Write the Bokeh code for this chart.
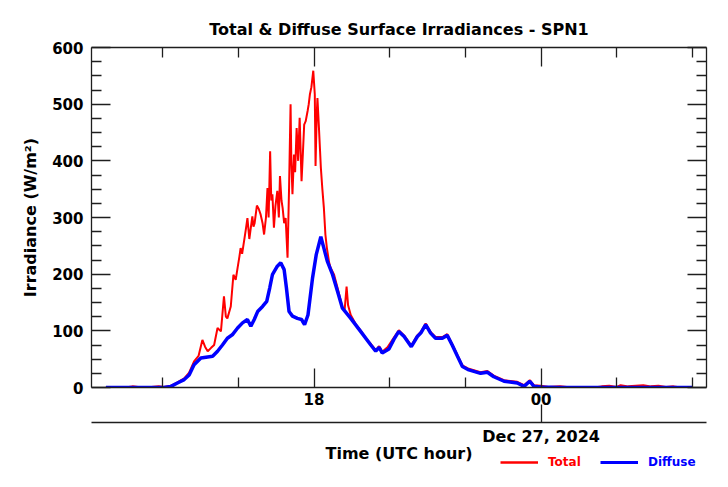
from bokeh.plotting import figure
from bokeh.layouts import column
from bokeh.models import LinearAxis, FixedTicker, Range1d, Legend, LegendItem
from bokeh.embed import file_html
from bokeh.resources import INLINE

# ---------------- data (hours UTC since Dec 26 00:00; 24 = Dec 27 00:00) ----------------
total_hours = [12.50, 12.75, 13.00, 13.20, 13.45, 13.70, 13.90, 14.03, 14.22, 14.39,
               14.57, 14.70, 14.83, 14.95, 15.05, 15.12, 15.19, 15.28, 15.36, 15.45,
               15.54, 15.62, 15.67, 15.71, 15.80, 15.87, 15.93, 15.98, 16.03, 16.06,
               16.10, 16.15, 16.20, 16.24, 16.29, 16.33, 16.37, 16.40, 16.43, 16.49,
               16.54, 16.59, 16.64, 16.68, 16.73, 16.77, 16.80, 16.84, 16.87, 16.90,
               16.94, 16.98, 17.03, 17.07, 17.10, 17.14, 17.17, 17.21, 17.25, 17.30,
               17.34, 17.38, 17.40, 17.43, 17.47, 17.50, 17.54, 17.58, 17.62, 17.67,
               17.71, 17.74, 17.78, 17.83, 17.86, 17.89, 17.93, 17.98, 18.02, 18.04,
               18.07, 18.09, 18.13, 18.18, 18.22, 18.26, 18.30, 18.34, 18.40, 18.44,
               18.53, 18.62, 18.70, 18.75, 18.81, 18.86, 18.90, 18.97, 19.10, 19.23,
               19.36, 19.50, 19.63, 19.72, 19.80, 19.94, 20.11, 20.24, 20.38, 20.57,
               20.73, 20.82, 20.95, 21.08, 21.21, 21.39, 21.52, 21.65, 21.79, 21.92,
               22.09, 22.40, 22.58, 22.75, 23.02, 23.37, 23.55, 23.70, 23.81, 23.99,
               24.20, 24.50, 24.80, 25.10, 25.40, 25.60, 25.80, 26.00, 26.10, 26.30,
               26.50, 26.70, 26.90, 27.10, 27.30, 27.50, 27.70, 28.00]
total_wm2 = [0, 1, 0, 2, 0, 1, 2, 1, 3, 9,
             16, 26, 46, 56, 84, 72, 64, 70, 75, 105,
             99, 161, 125, 122, 143, 199, 190, 211, 232, 246,
             236, 258, 280, 299, 262, 282, 302, 284, 290, 321,
             315, 305, 290, 270, 300, 352, 300, 417, 330, 341,
             282, 320, 347, 300, 373, 330, 317, 290, 299, 229,
             352, 500, 400, 341, 411, 380, 458, 400, 476, 364,
             420, 464, 470, 488, 500, 517, 530, 559, 517, 391,
             480, 511, 458, 388, 350, 317, 270, 246, 220, 211,
             199, 176, 155, 140, 138, 178, 145, 128, 112, 101,
             88, 77, 66, 73, 63, 71, 88, 101, 92, 74,
             92, 98, 113, 98, 89, 89, 94, 77, 57, 39,
             33, 27, 29, 21, 13, 10, 4, 13, 4, 3,
             1, 2, 0, 1, 0, 2, 3, 1, 4, 2,
             3, 4, 2, 3, 1, 2, 0, 0]

diffuse_hours = [12.50, 13.50, 14.03, 14.22, 14.39, 14.57, 14.70, 14.83, 15.01, 15.19,
                 15.32, 15.45, 15.58, 15.71, 15.84, 15.98, 16.11, 16.24, 16.33, 16.42,
                 16.51, 16.64, 16.75, 16.83, 16.90, 17.03, 17.12, 17.21, 17.27, 17.34,
                 17.43, 17.56, 17.67, 17.75, 17.84, 17.96, 18.06, 18.18, 18.26, 18.35,
                 18.49, 18.62, 18.75, 18.97, 19.23, 19.50, 19.63, 19.72, 19.80, 19.98,
                 20.11, 20.24, 20.38, 20.57, 20.73, 20.82, 20.95, 21.08, 21.21, 21.39,
                 21.52, 21.65, 21.79, 21.92, 22.09, 22.40, 22.58, 22.75, 23.02, 23.37,
                 23.55, 23.70, 23.81, 23.99, 24.50, 25.50, 26.50, 28.00]
diffuse_wm2 = [0, 0, 0, 2, 8, 14, 22, 40, 52, 54,
               55, 64, 75, 87, 93, 105, 114, 120, 108, 120,
               134, 143, 152, 176, 199, 214, 220, 208, 176, 134,
               126, 122, 120, 111, 128, 193, 235, 266, 246, 223,
               199, 170, 140, 122, 99, 75, 64, 71, 61, 68,
               85, 99, 90, 72, 90, 96, 111, 96, 87, 87,
               92, 75, 55, 37, 31, 25, 27, 19, 11, 8,
               2, 11, 2, 1, 0, 0, 0, 0]

x_major_ticks = [18, 24]
x_major_labels = ["18", "00"]
x_minor_ticks = [14, 16, 20, 22, 26, 28]
date_tick = [24]
date_label = ["Dec 27, 2024"]
y_major_ticks = [0, 100, 200, 300, 400, 500, 600]
y_minor_ticks = [25, 50, 75, 125, 150, 175, 225, 250, 275, 325, 350, 375,
                 425, 450, 475, 525, 550, 575]
series_names = ["Total", "Diffuse"]
series_colors = ["#ff0000", "#0000ff"]

FONT = "DejaVu Sans"
AX = "#1e1e1e"
MAIN_H = 466
LEG_TOP = 455

p = figure(width=728, height=MAIN_H, output_backend="svg", toolbar_location=None,
           x_range=Range1d(12.12, 28.37), y_range=Range1d(0, 600),
           x_axis_location=None, y_axis_location=None,
           min_border_left=91, min_border_right=22, min_border_top=47,
           min_border_bottom=MAIN_H - 47 - 340)
p.outline_line_color = None
p.xgrid.grid_line_color = None
p.ygrid.grid_line_color = None

p.title.text = "Total & Diffuse Surface Irradiances - SPN1"
p.title.align = "center"
p.title.text_font = FONT
p.title.text_font_size = "16px"
p.title.text_font_style = "bold"
p.title.text_color = "black"
p.title.standoff = 17


def style(ax, tick_in=19, minor_in=10):
    ax.axis_line_color = AX
    ax.axis_line_width = 1.3
    ax.major_tick_line_color = AX
    ax.minor_tick_line_color = AX
    ax.major_tick_line_width = 1.3
    ax.minor_tick_line_width = 1.3
    ax.major_tick_out = 0
    ax.minor_tick_out = 0
    ax.major_tick_in = tick_in
    ax.minor_tick_in = minor_in
    ax.major_label_text_font = FONT
    ax.major_label_text_font_style = "bold"
    ax.major_label_text_color = "black"
    ax.major_label_text_font_size = "15px"
    ax.axis_label_text_font = FONT
    ax.axis_label_text_font_style = "bold"
    ax.axis_label_text_color = "black"
    ax.axis_label_text_font_size = "16px"


left = LinearAxis(ticker=FixedTicker(ticks=y_major_ticks, minor_ticks=y_minor_ticks),
                  axis_label="Irradiance (W/m²)")
style(left)
left.major_label_standoff = 8
left.axis_label_standoff = 9
p.add_layout(left, "left")

right = LinearAxis(ticker=FixedTicker(ticks=y_major_ticks, minor_ticks=y_minor_ticks))
style(right)
right.major_label_overrides = {t: "" for t in y_major_ticks}
right.major_label_standoff = 0
p.add_layout(right, "right")

top = LinearAxis(ticker=FixedTicker(ticks=x_major_ticks, minor_ticks=x_minor_ticks))
style(top)
top.major_label_overrides = {t: "" for t in x_major_ticks}
top.major_label_standoff = 0
p.add_layout(top, "above")

bottom = LinearAxis(ticker=FixedTicker(ticks=x_major_ticks, minor_ticks=x_minor_ticks),
                    axis_label=" ")
style(bottom)
bottom.major_label_overrides = {t: s for t, s in zip(x_major_ticks, x_major_labels)}
bottom.major_label_standoff = 5
bottom.axis_label_text_font_size = "8px"
bottom.axis_label_standoff = 3
p.add_layout(bottom, "below")

dateax = LinearAxis(ticker=FixedTicker(ticks=date_tick, minor_ticks=[]),
                    axis_label="Time (UTC hour)")
style(dateax, tick_in=18, minor_in=0)
dateax.major_label_overrides = {t: s for t, s in zip(date_tick, date_label)}
dateax.major_label_text_font_size = "16px"
dateax.major_label_standoff = 4
dateax.axis_label_standoff = -5
p.add_layout(dateax, "below")

r_tot = p.line(total_hours, total_wm2, line_color=series_colors[0], line_width=2)
r_dif = p.line(diffuse_hours, diffuse_wm2, line_color=series_colors[1], line_width=3.5)

# ---------------- legend strip (overlaps the bottom of the main figure) ----------------
LEG_H = 487 - LEG_TOP
q = figure(width=728, height=LEG_H, output_backend="svg", toolbar_location=None,
           x_range=Range1d(0, 1), y_range=Range1d(0, 1),
           x_axis_location=None, y_axis_location=None, min_border=0, title=None)
q.outline_line_color = None
q.grid.visible = False
q.background_fill_alpha = 0
q.border_fill_alpha = 0
q.margin = (LEG_TOP - MAIN_H, 0, 0, 0)

# legend-only renderers: same series, but the strip's ranges keep them out of view
legend_sources = [(total_hours, total_wm2), (diffuse_hours, diffuse_wm2)]
for name, color, lx, lw, (xs, ys) in zip(series_names, series_colors, [409, 509],
                                         [2.5, 3], legend_sources):
    proxy = q.line(xs, ys, line_color=color, line_width=lw)
    lg = Legend(items=[LegendItem(label=name, renderers=[proxy])],
                location=(lx, 487 - 469), orientation="horizontal",
                padding=0, margin=0, spacing=0,
                border_line_color=None, background_fill_alpha=0,
                glyph_width=38, glyph_height=14, label_height=14, label_standoff=10,
                label_text_font=FONT, label_text_font_style="bold",
                label_text_font_size="12px", label_text_color=color)
    q.add_layout(lg)

layout = column(p, q, spacing=0)
open("out.html", "w").write(file_html(layout, INLINE))
